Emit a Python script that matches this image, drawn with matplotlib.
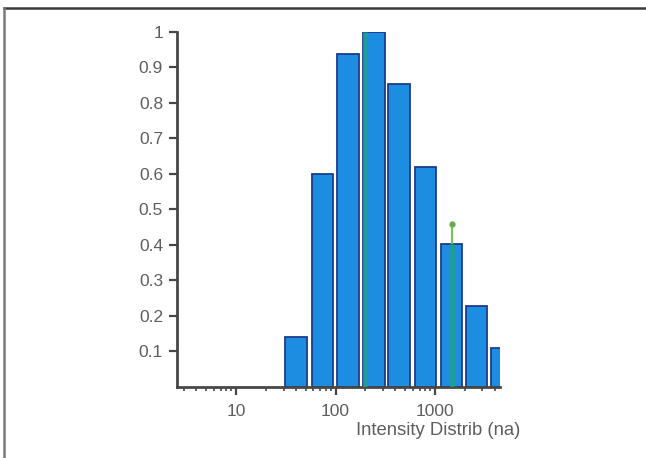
import matplotlib
matplotlib.use("Agg")
import matplotlib.pyplot as plt
from matplotlib.transforms import Bbox
from matplotlib.lines import Line2D

# bin centres (nm) and normalised intensity
sizes = [40, 74, 134, 244, 434, 803, 1466, 2612, 4750]
intensity = [0.141, 0.60, 0.938, 1.0, 0.853, 0.62, 0.403, 0.228, 0.11]

# green markers
mark_sizes = [198, 1480]
mark_values = [1.0, 0.46]

yticks = [0.1, 0.2, 0.3, 0.4, 0.5, 0.6, 0.7, 0.8, 0.9, 1.0]
ytick_labels = ["0.1", "0.2", "0.3", "0.4", "0.5", "0.6", "0.7", "0.8", "0.9", "1"]
xticks = [10, 100, 1000]
xtick_labels = ["10", "100", "1000"]

plt.rcParams['font.family'] = ['Liberation Sans', 'DejaVu Sans']
txt = '#5e5e5e'
axc = '#474747'

fig = plt.figure(figsize=(6.46, 4.58), dpi=100)
ax = fig.add_axes([0.274, 0.155, 0.5, 0.776])

half = 10 ** 0.11
lefts = [s / half for s in sizes]
widths = [s * half - s / half for s in sizes]
ax.bar(lefts, intensity, width=widths, align='edge', color='#1c8de0',
       edgecolor='#1d3c8c', linewidth=1.3, zorder=2)

# green stripes inside the bars, stem + dot above
ax.vlines(mark_sizes, 0, [1.0, 0.403], color='#1fa08c', lw=3.5, alpha=0.8, zorder=3)
ax.vlines(mark_sizes[1], 0.403, mark_values[1], color='#7cc45a', lw=1.6, zorder=3)
ax.plot([mark_sizes[1]], [mark_values[1]], 'o', color='#6aa84f', ms=3.5, zorder=4)

ax.set_xscale('log')
ax.set_xlim(2.55, 4500)
ax.set_ylim(0, 1.0)

ax.set_yticks(yticks)
ax.set_yticklabels(ytick_labels)
ax.set_xticks(xticks)
ax.set_xticklabels(xtick_labels)

for s in ['top', 'right']:
    ax.spines[s].set_visible(False)
for s in ['left', 'bottom']:
    ax.spines[s].set_color(axc)
    ax.spines[s].set_linewidth(2)

ax.tick_params(axis='y', direction='out', length=6, width=1.6, color=axc,
               labelsize=12.5, labelcolor=txt, pad=4)
ax.tick_params(axis='x', which='major', direction='out', length=6, width=1.6,
               color=axc, labelsize=12.5, labelcolor=txt, pad=6)
ax.tick_params(axis='x', which='minor', direction='out', length=3, width=1.2,
               color=axc)

# axis title, right paren cut off like in the source picture
t = fig.text(356 / 646, 1 - 435 / 458, "Intensity Distrib (na)", fontsize=13.3,
             color=txt, ha='left', va='baseline')
t.set_clip_box(Bbox.from_extents(0, 0, 521, 458))
t.set_clip_on(True)

# picture frame: top and left edges only
fig.add_artist(Line2D([4 / 646, 1], [1 - 8 / 458, 1 - 8 / 458],
                      transform=fig.transFigure, color='#3a3a3a', lw=1.8))
fig.add_artist(Line2D([4 / 646, 4 / 646], [0, 1 - 8 / 458],
                      transform=fig.transFigure, color='#7a7a7a', lw=1.8))

fig.savefig('out.png', dpi=100)
